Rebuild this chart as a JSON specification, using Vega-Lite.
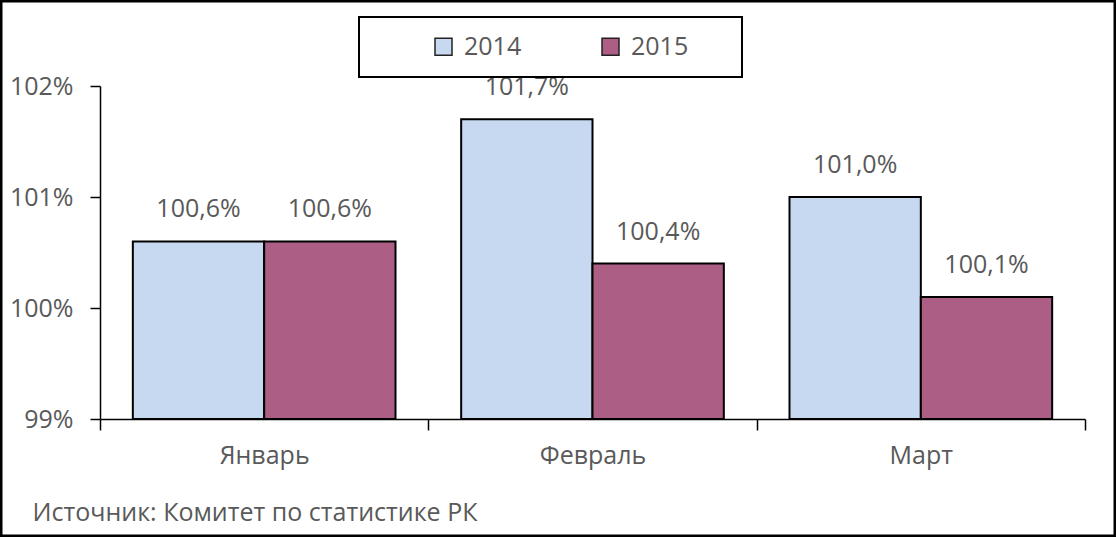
{
  "$schema": "https://vega.github.io/schema/vega-lite/v6.json",
  "width": 1116,
  "height": 537,
  "autosize": "none",
  "padding": 0,
  "config": {
    "locale": {
      "number": {"decimal": ",", "thousands": " ", "grouping": [3], "currency": ["", ""]}
    },
    "view": {"stroke": "#000000", "strokeWidth": 5},
    "font": "Open Sans"
  },
  "data": {
    "values": [
      {"month": "Январь", "year": "2014", "value": 1.006},
      {"month": "Январь", "year": "2015", "value": 1.006},
      {"month": "Февраль", "year": "2014", "value": 1.017},
      {"month": "Февраль", "year": "2015", "value": 1.004},
      {"month": "Март", "year": "2014", "value": 1.010},
      {"month": "Март", "year": "2015", "value": 1.001}
    ]
  },
  "encoding": {
    "x": {
      "field": "month",
      "type": "nominal",
      "sort": ["Январь", "Февраль", "Март"],
      "scale": {"range": [100, 1085], "paddingInner": 0, "paddingOuter": 0},
      "axis": {
        "offset": -118,
        "labelAngle": 0,
        "tickBand": "extent",
        "tickSize": 11,
        "tickColor": "#000000",
        "tickWidth": 1.5,
        "domainColor": "#000000",
        "domainWidth": 1.5,
        "labelFontSize": 25,
        "labelColor": "#595959",
        "labelPadding": 13,
        "title": "Источник: Комитет по статистике РК",
        "titleX": 32,
        "titleY": 101,
        "titleAlign": "left",
        "titleBaseline": "alphabetic",
        "titleFontSize": 25,
        "titleFontWeight": "normal",
        "titleColor": "#595959"
      }
    },
    "xOffset": {
      "field": "year",
      "type": "nominal",
      "scale": {"paddingOuter": 0.25, "paddingInner": 0}
    },
    "y": {
      "field": "value",
      "type": "quantitative",
      "scale": {"domain": [0.99, 1.02], "range": [419, 86], "zero": false, "nice": false},
      "axis": {
        "values": [0.99, 1, 1.01, 1.02],
        "format": ".0%",
        "title": null,
        "offset": -100,
        "grid": false,
        "domainColor": "#000000",
        "domainWidth": 1.5,
        "tickColor": "#000000",
        "tickWidth": 1.5,
        "tickSize": 10,
        "labelFontSize": 25,
        "labelColor": "#595959",
        "labelPadding": 17
      }
    }
  },
  "layer": [
    {
      "mark": {"type": "bar", "stroke": "#000000", "strokeWidth": 2},
      "encoding": {
        "y2": {"datum": 0.99},
        "color": {
          "field": "year",
          "type": "nominal",
          "scale": {"domain": ["2014", "2015"], "range": ["#C6D9F1", "#AD5E84"]},
          "legend": {
            "orient": "none",
            "legendX": 359,
            "legendY": 17,
            "direction": "horizontal",
            "title": " ",
            "titleOrient": "left",
            "titlePadding": 55,
            "padding": 17,
            "strokeColor": "#000000",
            "symbolType": "square",
            "symbolSize": 289,
            "symbolStrokeColor": "#222222",
            "symbolStrokeWidth": 1.5,
            "labelFontSize": 25,
            "labelColor": "#595959",
            "labelOffset": 8,
            "columnPadding": 76,
            "labelExpr": "datum.label == '2015' ? datum.label + '\u2800\u2800' : datum.label",
            "encode": {"legend": {"update": {"strokeWidth": {"value": 2}}}}
          }
        }
      }
    },
    {
      "mark": {"type": "text", "dy": -24, "baseline": "alphabetic", "fontSize": 25, "color": "#595959"},
      "encoding": {
        "text": {"field": "value", "type": "quantitative", "format": ".1%"}
      }
    }
  ]
}
